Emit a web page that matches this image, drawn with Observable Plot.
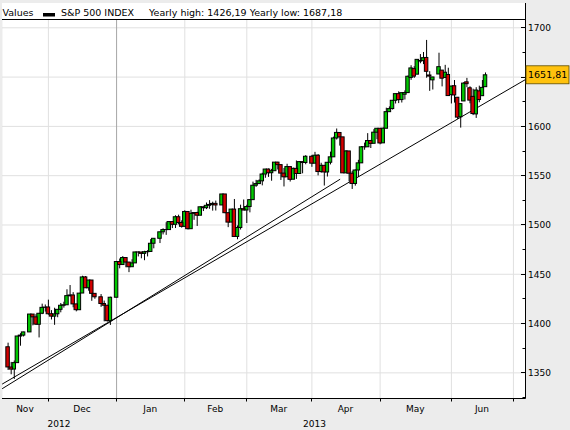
<!DOCTYPE html>
<html><head><meta charset="utf-8">
<script src="https://cdn.jsdelivr.net/npm/d3@7"></script>
<script src="https://cdn.jsdelivr.net/npm/@observablehq/plot@0.6"></script>
<style>
html,body{margin:0;padding:0;background:#ececec;}
#chart{width:570px;height:430px;}
</style></head><body><div id="chart"></div>
<script>
// ---- data: S&P 500 INDEX daily candles ----
const dates = ["2012-11-14","2012-11-15","2012-11-16","2012-11-19","2012-11-20","2012-11-21","2012-11-23","2012-11-26","2012-11-27","2012-11-28","2012-11-29","2012-11-30",
"2012-12-03","2012-12-04","2012-12-05","2012-12-06","2012-12-07","2012-12-10","2012-12-11","2012-12-12","2012-12-13","2012-12-14","2012-12-17","2012-12-18","2012-12-19","2012-12-20","2012-12-21","2012-12-24","2012-12-26","2012-12-27","2012-12-28","2012-12-31",
"2013-01-02","2013-01-03","2013-01-04","2013-01-07","2013-01-08","2013-01-09","2013-01-10","2013-01-11","2013-01-14","2013-01-15","2013-01-16","2013-01-17","2013-01-18","2013-01-22","2013-01-23","2013-01-24","2013-01-25","2013-01-28","2013-01-29","2013-01-30","2013-01-31",
"2013-02-01","2013-02-04","2013-02-05","2013-02-06","2013-02-07","2013-02-08","2013-02-11","2013-02-12","2013-02-13","2013-02-14","2013-02-15","2013-02-19","2013-02-20","2013-02-21","2013-02-22","2013-02-25","2013-02-26","2013-02-27","2013-02-28",
"2013-03-01","2013-03-04","2013-03-05","2013-03-06","2013-03-07","2013-03-08","2013-03-11","2013-03-12","2013-03-13","2013-03-14","2013-03-15","2013-03-18","2013-03-19","2013-03-20","2013-03-21","2013-03-22","2013-03-25","2013-03-26","2013-03-27","2013-03-28",
"2013-04-01","2013-04-02","2013-04-03","2013-04-04","2013-04-05","2013-04-08","2013-04-09","2013-04-10","2013-04-11","2013-04-12","2013-04-15","2013-04-16","2013-04-17","2013-04-18","2013-04-19","2013-04-22","2013-04-23","2013-04-24","2013-04-25","2013-04-26","2013-04-29","2013-04-30",
"2013-05-01","2013-05-02","2013-05-03","2013-05-06","2013-05-07","2013-05-08","2013-05-09","2013-05-10","2013-05-13","2013-05-14","2013-05-15","2013-05-16","2013-05-17","2013-05-20","2013-05-21","2013-05-22","2013-05-23","2013-05-24","2013-05-28","2013-05-29","2013-05-30","2013-05-31",
"2013-06-03","2013-06-04","2013-06-05","2013-06-06","2013-06-07","2013-06-10","2013-06-11","2013-06-12","2013-06-13","2013-06-14","2013-06-17","2013-06-18"];
const openV = [1375.97,1355.41,1353.36,1359.88,1386.82,1387.79,1391.03,1409.15,1406.29,1398.77,1409.96,1415.95,
1416.34,1409.46,1407.05,1409.43,1413.95,1418.07,1418.55,1427.84,1428.48,1419.45,1413.54,1430.47,1446.79,1435.81,1443.67,1430.15,1426.66,1419.83,1418.10,1402.43,
1426.19,1462.42,1459.37,1466.47,1461.89,1457.15,1461.02,1472.12,1472.05,1470.67,1472.33,1472.63,1480.95,1485.98,1492.56,1494.81,1494.82,1502.96,1500.18,1507.84,1501.96,
1498.11,1513.17,1495.71,1511.29,1512.12,1509.39,1517.93,1517.01,1519.43,1520.33,1521.38,1519.79,1530.94,1511.95,1502.42,1515.60,1487.85,1496.94,1515.99,
1514.68,1518.20,1525.20,1539.79,1541.46,1544.26,1551.15,1556.22,1552.48,1554.52,1563.21,1560.70,1552.10,1548.34,1558.71,1545.90,1556.89,1551.69,1563.75,1562.86,
1569.18,1562.17,1570.25,1553.69,1559.98,1553.26,1563.11,1568.61,1587.73,1593.30,1588.84,1552.36,1574.57,1552.03,1541.61,1555.25,1562.50,1578.78,1578.78,1585.16,1582.34,1593.58,
1597.55,1582.77,1597.60,1614.40,1617.55,1625.95,1632.69,1626.69,1632.10,1633.75,1649.13,1658.07,1652.45,1665.71,1666.20,1669.39,1651.62,1646.67,1652.63,1656.57,1649.14,1652.13,
1631.71,1640.73,1629.05,1609.29,1625.27,1644.67,1638.64,1629.94,1612.15,1635.52,1630.64,1639.77];
const highV = [1380.13,1360.62,1362.03,1386.89,1389.77,1391.25,1409.16,1409.15,1409.01,1410.31,1419.70,1418.86,
1423.73,1413.14,1415.56,1413.95,1420.34,1421.64,1434.27,1438.59,1431.36,1419.45,1430.67,1448.00,1447.75,1443.70,1443.67,1430.15,1429.42,1422.80,1418.10,1426.74,
1462.43,1465.47,1467.94,1466.47,1461.89,1464.73,1472.30,1472.75,1472.05,1473.31,1473.96,1485.16,1485.98,1492.56,1496.13,1502.27,1503.26,1503.23,1509.35,1509.94,1504.19,
1514.41,1513.17,1514.96,1512.53,1512.90,1518.31,1518.31,1522.29,1524.69,1523.14,1524.24,1530.94,1530.94,1511.95,1515.64,1525.84,1498.99,1520.08,1525.34,
1519.99,1525.27,1543.47,1545.25,1545.78,1552.48,1556.27,1556.77,1556.39,1563.32,1563.62,1560.70,1557.25,1561.56,1558.71,1557.74,1564.91,1563.95,1564.07,1570.28,
1570.57,1573.66,1571.47,1562.60,1559.98,1563.07,1573.89,1589.07,1597.35,1593.30,1588.84,1575.35,1574.57,1554.38,1555.89,1565.55,1579.58,1583.00,1592.64,1585.78,1596.65,1597.57,
1597.55,1598.60,1618.46,1619.77,1626.03,1632.78,1635.01,1633.70,1636.00,1651.10,1661.49,1660.51,1667.47,1672.84,1674.93,1687.18,1655.50,1649.78,1674.21,1656.57,1661.91,1658.99,
1640.42,1646.53,1629.31,1622.56,1644.40,1648.69,1640.13,1637.71,1639.25,1640.80,1646.50,1654.19];
const lowV = [1352.50,1348.05,1343.35,1359.88,1377.04,1386.39,1391.03,1397.68,1398.03,1385.43,1409.04,1411.63,
1408.46,1403.65,1398.23,1405.93,1410.90,1415.64,1418.55,1426.76,1416.00,1411.88,1413.54,1430.47,1435.80,1432.82,1422.58,1424.66,1416.43,1401.80,1401.58,1398.11,
1426.19,1455.53,1458.99,1456.62,1451.64,1457.15,1461.02,1467.58,1465.69,1463.76,1467.60,1472.63,1475.81,1481.16,1489.90,1489.46,1494.82,1496.33,1496.38,1500.11,1496.76,
1498.11,1495.02,1495.71,1504.71,1498.49,1509.39,1513.61,1515.61,1515.93,1514.02,1514.14,1519.79,1511.41,1497.29,1502.42,1487.85,1485.01,1494.88,1514.46,
1501.48,1512.29,1525.20,1538.11,1541.46,1539.66,1547.36,1548.24,1544.37,1554.52,1555.74,1545.13,1538.57,1548.34,1543.55,1545.90,1546.22,1551.69,1551.90,1561.08,
1558.47,1562.17,1549.80,1552.52,1539.50,1548.63,1560.92,1568.61,1586.17,1579.97,1552.28,1552.36,1543.69,1536.03,1539.40,1548.19,1562.50,1575.80,1578.78,1577.56,1582.34,1586.50,
1581.28,1582.77,1597.60,1614.21,1616.64,1622.70,1623.09,1623.71,1626.74,1633.75,1646.68,1648.60,1652.45,1663.52,1662.67,1648.86,1635.53,1636.88,1652.63,1640.05,1648.61,1630.74,
1622.72,1623.62,1607.09,1598.23,1625.27,1639.26,1622.92,1610.92,1608.07,1623.96,1630.34,1639.77];
const closeV = [1355.49,1353.33,1359.88,1386.89,1387.81,1391.03,1409.15,1406.29,1398.94,1409.93,1415.95,1416.18,
1409.46,1407.05,1409.28,1413.94,1418.07,1418.55,1427.84,1428.48,1419.45,1413.58,1430.36,1446.79,1435.81,1443.69,1430.15,1426.66,1419.83,1418.10,1402.43,1426.19,
1462.42,1459.37,1466.47,1461.89,1457.15,1461.02,1472.12,1472.05,1470.68,1472.34,1472.63,1480.94,1485.98,1492.56,1494.81,1494.82,1502.96,1500.18,1507.84,1501.96,1498.11,
1513.17,1495.71,1511.29,1512.12,1509.39,1517.93,1517.01,1519.43,1520.33,1521.38,1519.79,1530.94,1511.95,1502.42,1515.60,1487.85,1496.94,1515.99,1514.68,
1518.20,1525.20,1539.79,1541.46,1544.26,1551.18,1556.22,1552.48,1554.52,1563.23,1560.70,1552.10,1548.34,1558.71,1545.80,1556.89,1551.69,1563.77,1562.85,1569.19,
1562.17,1570.25,1553.69,1559.98,1553.28,1563.07,1568.61,1587.73,1593.37,1588.85,1552.36,1574.57,1552.01,1541.61,1555.25,1562.50,1578.78,1578.79,1585.16,1582.24,1593.61,1597.57,
1582.70,1597.59,1614.42,1617.50,1625.96,1632.69,1626.67,1633.70,1633.77,1650.34,1658.78,1650.47,1667.47,1666.29,1669.16,1655.35,1650.51,1649.60,1660.06,1648.36,1654.41,1630.74,
1640.42,1631.38,1608.90,1622.56,1643.38,1642.81,1626.13,1612.52,1636.36,1626.73,1639.04,1651.81];

// ---- axis / annotation values ----
const monthStarts = ["2012-12-03","2013-01-02","2013-02-01","2013-03-01","2013-04-01","2013-05-01","2013-06-03","2013-07-01"];
const monthNames = ["Nov","Dec","Jan","Feb","Mar","Apr","May","Jun"];
const yearNames = ["2012","2013"];
const yearStart = "2013-01-02";
const majorTicks = [1350,1400,1450,1500,1550,1600,1650,1700];
const minorTicks = [1325,1375,1425,1475,1525,1575,1625,1675];
const xDomain = [-36.8, 131.9];          // trading-axis extent (weekday index)
const yDomain = [1324, 1708.4];
const lastValue = 1651.81;
const lastLabel = "1651,81";
// trend lines (weekday index, value)
const trendAx = [-36.8, 131.9], trendAy = [1338.8, 1647.5];
const trendBx = [-36.8, 72], trendBy = [1334.1, 1546.2];
const headerTitle = "Values";
const headerSeries = "S&P 500 INDEX";
const headerStats = "Yearly high: 1426,19 Yearly low: 1687,18";

// weekday index relative to 2013-01-02
const base = Date.UTC(2013,0,2);
function wd(s){
  const d = Date.parse(s+"T00:00:00Z");
  const a = Math.min(d, base), b = Math.max(d, base);
  let n = 0;
  for (let t = a; t < b; t += 86400000) { const g = new Date(t).getUTCDay(); if (g !== 0 && g !== 6) n++; }
  return d < base ? -n : n;
}
const candles = dates.map((s,k) => ({i: wd(s), open: openV[k], high: highV[k], low: lowV[k], close: closeV[k]}));
const up = candles.filter(d => d.close >= d.open);
const down = candles.filter(d => d.close < d.open);
const monthIdx = monthStarts.map(wd);
const yearIdx = wd(yearStart);
const trendA = trendAx.map((x,k) => ({x, y: trendAy[k]}));
const trendB = trendBx.map((x,k) => ({x, y: trendBy[k]}));
const HW = 0.56;

const chart = Plot.plot({
  width: 570, height: 430,
  marginLeft: 2, marginRight: 45, marginTop: 19, marginBottom: 32,
  style: {background: "transparent", fontFamily: "'DejaVu Sans', sans-serif", fontSize: "9px", overflow: "visible"},
  x: {domain: xDomain, axis: null},
  y: {domain: yDomain, axis: null},
  marks: [
    Plot.frame({fill: "white"}),
    Plot.ruleY(majorTicks, {stroke: "#e0e0e0", strokeWidth: 1}),
    Plot.ruleX(monthIdx.filter(d => d !== yearIdx), {stroke: "#e0e0e0", strokeWidth: 1}),
    Plot.ruleX([yearIdx], {stroke: "#a6a6a6", strokeWidth: 1}),
    Plot.line(trendB, {x: "x", y: "y", stroke: "black", strokeWidth: 1, clip: true}),
    Plot.line(trendA, {x: "x", y: "y", stroke: "black", strokeWidth: 1, clip: true}),
    Plot.ruleX(candles, {x: "i", y1: "low", y2: "high", stroke: "black", strokeWidth: 1}),
    Plot.rect(up, {x1: d => d.i - HW, x2: d => d.i + HW, y1: "open", y2: "close", fill: "#00c800", stroke: "black", strokeWidth: 1}),
    Plot.rect(down, {x1: d => d.i - HW, x2: d => d.i + HW, y1: "open", y2: "close", fill: "#d40000", stroke: "black", strokeWidth: 1})
  ]
});
document.getElementById("chart").appendChild(chart);

// ---- decorations drawn with the plot's own scales ----
const X = v => chart.scale("x").apply(v);
const Y = v => chart.scale("y").apply(v);
const L = 2, R = 525, T = 19, B = 398;
const ly = Y(lastValue);
const svg = d3.select(chart);
svg.insert("rect", ":first-child").attr("x", L).attr("y", 3).attr("width", R - L).attr("height", T - 3).attr("fill", "white");
const g = svg.append("g").attr("font-family", "'DejaVu Sans', sans-serif").attr("fill", "black").attr("text-anchor", "start");
// frame lines
g.append("line").attr("x1", L).attr("x2", R).attr("y1", T + 0.5).attr("y2", T + 0.5).attr("stroke", "black");
g.append("line").attr("x1", R + 0.5).attr("x2", R + 0.5).attr("y1", 3).attr("y2", B + 0.5).attr("stroke", "black");
g.append("line").attr("x1", L).attr("x2", R + 0.5).attr("y1", B + 0.5).attr("y2", B + 0.5).attr("stroke", "black");
// y ticks (inward) and labels; labels hidden behind the last-value box are not drawn
majorTicks.forEach(v => {
  const y = Math.round(Y(v)) + 0.5;
  g.append("line").attr("x1", R - 4).attr("x2", R).attr("y1", y).attr("y2", y).attr("stroke", "black");
  if (Math.abs(y - ly) > 12)
    g.append("text").attr("x", R + 3).attr("y", y).attr("dy", "0.35em").attr("font-size", 9).attr("text-anchor", "start").text(v);
});
minorTicks.forEach(v => {
  const y = Math.round(Y(v)) + 0.5;
  g.append("line").attr("x1", R - 2.5).attr("x2", R).attr("y1", y).attr("y2", y).attr("stroke", "black");
});
// x ticks
monthIdx.forEach(v => {
  const x = Math.round(X(v)) + 0.5;
  if (x <= R) g.append("line").attr("x1", x).attr("x2", x).attr("y1", B).attr("y2", B + 3.5).attr("stroke", "black");
});
// month labels, centered in visible month spans
const edges = [xDomain[0], ...monthIdx];
monthNames.forEach((m, k) => {
  const mid = (edges[k] + Math.min(edges[k + 1], xDomain[1])) / 2;
  g.append("text").attr("x", X(mid)).attr("y", 412).attr("text-anchor", "middle").attr("font-size", 9).text(m);
});
const yearEdges = [xDomain[0], yearIdx, monthIdx[monthIdx.length - 1]];
yearNames.forEach((yn, k) => {
  const mid = (yearEdges[k] + yearEdges[k + 1]) / 2;
  g.append("text").attr("x", X(mid)).attr("y", 427).attr("text-anchor", "middle").attr("font-size", 9).text(yn);
});
// last value label
g.append("rect").attr("x", R + 1).attr("y", ly - 9).attr("width", 43).attr("height", 18).attr("fill", "#ffc20e").attr("stroke", "#5a4a00").attr("stroke-width", 0.8);
g.append("text").attr("x", R + 3).attr("y", ly).attr("dy", "0.36em").attr("font-size", 9.5).attr("text-anchor", "start").text(lastLabel);
// header
g.append("text").attr("x", 2.5).attr("y", 16).attr("font-size", 9.5).attr("text-anchor", "start").text(headerTitle);
g.append("rect").attr("x", 43).attr("y", 13).attr("width", 12).attr("height", 3.5).attr("fill", "black");
g.append("text").attr("x", 61).attr("y", 16).attr("font-size", 9.5).attr("text-anchor", "start").text(headerSeries);
g.append("text").attr("x", 149).attr("y", 16).attr("font-size", 9.5).attr("text-anchor", "start").text(headerStats);
</script>
</body></html>
